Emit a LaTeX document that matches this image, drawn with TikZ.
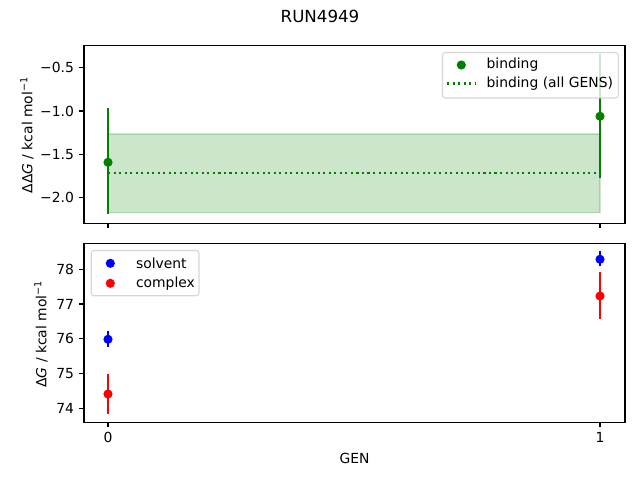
\documentclass[tikz,border=0pt]{standalone}
\usepackage{fontspec}
\setmainfont{DejaVu Sans}
\newcommand\mplfont{\fontsize{10}{12}\selectfont}
\newcommand\mpltitle{\fontsize{12}{14}\selectfont}
\begin{document}
\begin{tikzpicture}[x=0.72pt,y=-0.72pt,
  axframe/.style={draw=black,line width=0.8pt},
  tickmark/.style={line width=0.8pt},
  ytl/.style={anchor=east,inner sep=0,font=\mplfont},
  xtl/.style={anchor=north,inner sep=0,font=\mplfont},
  axlab/.style={inner sep=0,font=\mplfont},
  errbar/.style={line width=1.5pt},
  dot/.style={circle,inner sep=0,minimum size=6.6pt},
  legbox/.style={draw=black!20,draw opacity=0.8,fill=white,fill opacity=0.8,rounded corners=2pt,line width=0.8pt},
  legtext/.style={anchor=west,inner sep=0,font=\mplfont},
  meanline/.style={line width=1.5pt,dash pattern=on 1.5pt off 2.475pt}
]
\useasboundingbox (0,0) rectangle (640,480);
\definecolor{mplgreen}{RGB}{0,128,0}

% title
\node[inner sep=0,font=\mpltitle] (title) at (320,16) {RUN4949};

% ---------- top axes ----------
\fill[mplgreen,fill opacity=0.2,draw=mplgreen,draw opacity=0.2,line width=1pt] (108,134) rectangle (600,212.7);
\draw[meanline,draw=mplgreen] (108,172.7) -- (600,172.7);
\coordinate (g0a) at (108,108.3); \coordinate (g0b) at (108,214.3);
\coordinate (g1a) at (600,53.8);  \coordinate (g1b) at (600,178.3);
\draw[errbar,mplgreen] (g0a) -- (g0b);
\draw[errbar,mplgreen] (g1a) -- (g1b);
\node[dot,fill=mplgreen] (g0) at (108,162.3) {};
\node[dot,fill=mplgreen] (g1) at (600,116.3) {};

\draw[axframe] (84,45.3) rectangle (625,223.3);
\foreach \v/\y in {{−0.5}/67.7,{−1.0}/111.05,{−1.5}/154.4,{−2.0}/197.75}{
  \draw[tickmark] (84,\y) -- (79.1,\y);
  \node[ytl] at (74.2,\y) {\v};
}
\draw[tickmark] (108,223.3) -- (108,228.2);
\draw[tickmark] (600,223.3) -- (600,228.2);
\node[axlab,rotate=90] (ylabtop) at (27,135) {ΔΔ\textit{G} / kcal mol\textsuperscript{−1}};

% legend top
\draw[legbox] (442.5,52.5) rectangle (618.3,98);
\node[dot,fill=mplgreen] (lg1) at (461.3,65) {};
\node[legtext] (lt1) at (486.3,65) {binding};
\draw[meanline,draw=mplgreen] (447,83.5) -- (475,83.5);
\node[legtext] (lt2) at (486.3,83.5) {binding (all GENS)};

% ---------- bottom axes ----------
\coordinate (s0a) at (108,330.7); \coordinate (s0b) at (108,346.7);
\coordinate (c0a) at (108,374);   \coordinate (c0b) at (108,413.7);
\coordinate (s1a) at (600,251);   \coordinate (s1b) at (600,266);
\coordinate (c1a) at (600,272);   \coordinate (c1b) at (600,319.3);
\draw[errbar,blue] (s0a) -- (s0b);
\draw[errbar,blue] (s1a) -- (s1b);
\draw[errbar,red] (c0a) -- (c0b);
\draw[errbar,red] (c1a) -- (c1b);
\node[dot,fill=blue] (s0) at (108,339.3) {};
\node[dot,fill=blue] (s1) at (600,259.3) {};
\node[dot,fill=red] (c0) at (108,394) {};
\node[dot,fill=red] (c1) at (600,296) {};

\draw[axframe] (84,243.3) rectangle (625,422.3);
\foreach \v/\y in {78/269.3,77/304.05,76/338.8,75/373.55,74/408.3}{
  \draw[tickmark] (84,\y) -- (79.1,\y);
  \node[ytl] at (74.2,\y) {\v};
}
\draw[tickmark] (108,422.3) -- (108,427.2);
\draw[tickmark] (600,422.3) -- (600,427.2);
\node[xtl] (xt0) at (108,432) {0};
\node[xtl] (xt1) at (600,432) {1};
\node[axlab] (xlab) at (354.5,458) {GEN};
\node[axlab,rotate=90] (ylabbot) at (41,334) {Δ\textit{G} / kcal mol\textsuperscript{−1}};

% legend bottom
\draw[legbox] (91.2,250.5) rectangle (199,295.7);
\node[dot,fill=blue] (lb1) at (110.3,263.3) {};
\node[legtext] (lbt1) at (135.8,263.3) {solvent};
\node[dot,fill=red] (lb2) at (110.3,283.3) {};
\node[legtext] (lbt2) at (135.8,283.3) {complex};
\end{tikzpicture}
\end{document}
